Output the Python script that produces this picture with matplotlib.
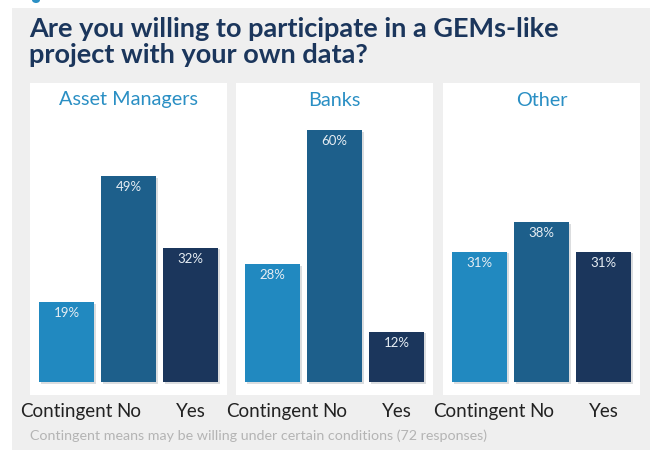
import matplotlib
matplotlib.use("Agg")
from matplotlib import pyplot as plt
from matplotlib import patheffects as pe
from matplotlib.patches import Rectangle, Ellipse

# data
groups = ["Asset Managers", "Banks", "Other"]
answers = ["Contingent", "No", "Yes"]
asset_managers = [19, 49, 32]
banks = [28, 60, 12]
other = [31, 38, 31]
title = "Are you willing to participate in a GEMs-like\nproject with your own data?"
note = "Contingent means may be willing under certain conditions (72 responses)"

colors = ["#2189c0", "#1d5f8b", "#1b365c"]
navy = "#1b365c"
W, H = 651, 450

plt.rcParams["font.family"] = ["Lato", "DejaVu Sans"]

fig = plt.figure(figsize=(W / 100, H / 100), dpi=100)
fig.patch.set_facecolor("white")

# gray card behind everything
fig.patches.append(Rectangle((12 / W, 0), (650 - 12) / W, 1 - 8 / H,
                             transform=fig.transFigure, facecolor="#efefef",
                             edgecolor="none", zorder=-5))
# little cut-off blue mark at top left
fig.patches.append(Ellipse((36 / W, 1), 8 / W, 6 / H, transform=fig.transFigure,
                           facecolor="#2a8fc4", edgecolor="none", zorder=-5))

# baselines of the two title lines at about y=37 and y=63
fig.text(29 / W, 1 - 37 / H, "Are you willing to participate in a GEMs-like", ha="left",
         va="baseline", fontsize=19.5, fontweight="bold", color=navy)
fig.text(29 / W, 1 - 63 / H, "project with your own data?", ha="left",
         va="baseline", fontsize=19.5, fontweight="bold", color=navy)

panel_left = [30, 236, 443]
values = [asset_managers, banks, other]
for left, name, vals in zip(panel_left, groups, values):
    ax = fig.add_axes([left / W, 1 - 395 / H, 197 / W, 312 / H])
    ax.set_facecolor("white")
    x = range(len(answers))
    bars = ax.bar(x, vals, width=0.887, color=colors, zorder=2)
    for b in bars:
        b.set_path_effects([pe.SimplePatchShadow(offset=(1.2, -1.2), shadow_rgbFace="#9aa0a6",
                                                 alpha=0.35), pe.Normal()])
    for i, v in enumerate(vals):
        ax.text(i, v - 1.2, f"{v}%", ha="center", va="top", fontsize=9.5,
                color="#e6edf3", zorder=3)
    ax.set_xlim(-0.59, 2.59)
    ax.set_ylim(-3.1, 71.2)
    ax.text(0.5, 1 - 17 / 312, name, transform=ax.transAxes, ha="center", va="center",
            fontsize=14.3, color="#2a8fc4")
    ax.set_xticks(list(x), answers)
    ax.tick_params(axis="x", length=0, pad=6, labelsize=13.5, labelcolor="#222222")
    ax.set_yticks([])
    for s in ax.spines.values():
        s.set_visible(False)

fig.text(30 / W, 1 - 436 / H, note, ha="left", va="center", fontsize=10.3,
         color="#b4b4b4")

fig.savefig("out.png", dpi=100)
